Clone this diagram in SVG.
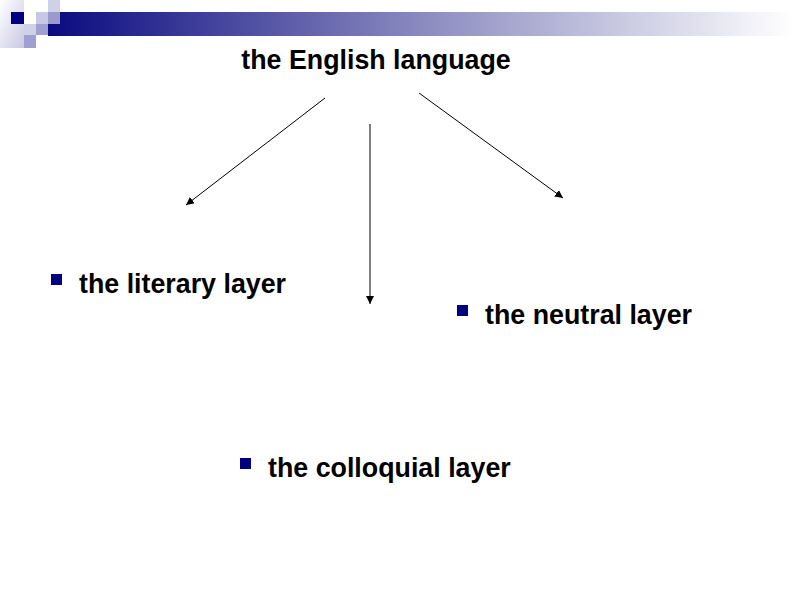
<svg xmlns="http://www.w3.org/2000/svg" width="800" height="600" viewBox="0 0 800 600">
<defs>
<linearGradient id="bar" x1="0" y1="0" x2="1" y2="0">
<stop offset="0" stop-color="#0a0a80"/>
<stop offset="0.5" stop-color="#8a8ac0"/>
<stop offset="1" stop-color="#ffffff"/>
</linearGradient>
<linearGradient id="corner" x1="0" y1="0" x2="1" y2="1">
<stop offset="0" stop-color="#ffffff"/>
<stop offset="1" stop-color="#c8c8e4"/>
</linearGradient>
<marker id="ah" viewBox="0 0 10 10" refX="10" refY="5" markerWidth="8" markerHeight="8" markerUnits="userSpaceOnUse" orient="auto">
<path d="M0,0 L10,5 L0,10 z" fill="#000"/>
</marker>
<style>
text{font-family:"Liberation Sans",Arial,sans-serif;font-weight:bold;font-size:26.8px;fill:#000}
.bul{fill:#000080}
.con{stroke:#000;stroke-width:1;fill:none;marker-end:url(#ah)}
</style>
</defs>
<rect width="800" height="600" fill="#fff"/>
<g id="header">
<rect x="0" y="0" width="24" height="48" fill="url(#corner)"/>
<rect x="48" y="12" width="745" height="24" fill="url(#bar)"/>
<rect x="11" y="12" width="13" height="12" fill="#000080"/>
<rect x="36" y="12" width="12" height="12" fill="#c8c8e4"/>
<rect x="48" y="0" width="12" height="12" fill="#d0d0e8"/>
<rect x="48" y="12" width="12" height="12" fill="#9a9acc"/>
<rect x="24" y="24" width="12" height="11" fill="#d0d0e8"/>
<rect x="36" y="24" width="12" height="11" fill="#a0a0d0"/>
<rect x="24" y="35" width="12" height="13" fill="#a0a0d0"/>
</g>
<g id="root"><text x="376" y="69" text-anchor="middle">the English language</text></g>
<g id="literary"><rect class="bul" x="51" y="274" width="11" height="11"/><text x="79" y="293">the literary layer</text></g>
<g id="neutral"><rect class="bul" x="457" y="305" width="11" height="11"/><text x="485" y="324">the neutral layer</text></g>
<g id="colloquial"><rect class="bul" x="240" y="458" width="11" height="11"/><text x="268" y="477">the colloquial layer</text></g>
<g id="connectors">
<line class="con" x1="325" y1="98" x2="186" y2="205"/>
<line class="con" x1="370" y1="124" x2="370" y2="304"/>
<line class="con" x1="419" y1="93" x2="563" y2="198"/>
</g>
</svg>
